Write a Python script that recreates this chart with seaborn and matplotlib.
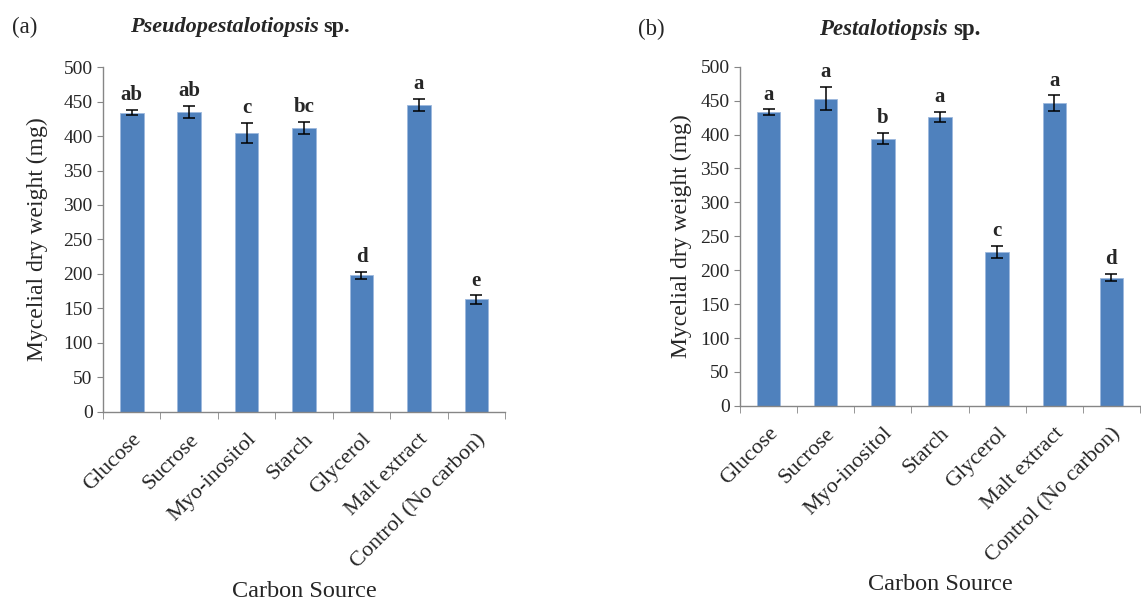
import matplotlib.pyplot as plt
import pandas as pd
import seaborn as sns

sns.set_style("white")
plt.rcParams["font.family"] = ["Liberation Serif", "DejaVu Serif"]

# Данные
categories = ["Glucose", "Sucrose", "Myo-inositol", "Starch", "Glycerol",
              "Malt extract", "Control (No carbon)"]

pseudo_mean = [434, 435, 405, 412, 198, 445, 163]
pseudo_err = [3.6, 8.4, 14.5, 8.4, 5.3, 8.7, 6.0]
pseudo_letters = ["ab", "ab", "c", "bc", "d", "a", "e"]

pesta_mean = [433, 453, 394, 426, 227, 446, 189]
pesta_err = [4.0, 17.5, 8.4, 7.0, 9.3, 11.8, 5.2]
pesta_letters = ["a", "a", "b", "a", "c", "a", "d"]

BAR_COLOR = "#4F81BD"
AXIS_COLOR = "#868686"
W, H = 1141, 604


def draw_panel(ax, means, errs, letters, ylabelpad):
    df = pd.DataFrame({"source": categories, "weight": means})
    sns.barplot(data=df, x="source", y="weight", color=BAR_COLOR, width=0.41,
                errorbar=None, saturation=1, edgecolor="#9DB9DE", linewidth=0.6, ax=ax)
    ax.errorbar(range(len(categories)), means, yerr=errs, fmt="none",
                ecolor="black", elinewidth=1.1, capsize=4, capthick=1.1)

    for i, (m, e, lab) in enumerate(zip(means, errs, letters)):
        ax.annotate(lab, (i, m + e), xytext=(0, 7), textcoords="offset points",
                    ha="center", va="baseline", fontsize=15, fontweight="bold")

    ax.set_ylim(0, 500)
    ax.set_xlim(-0.5, len(categories) - 0.5)
    ax.set_yticks(range(0, 501, 50))
    ax.tick_params(axis="y", labelsize=14, length=4, color=AXIS_COLOR, direction="out", left=True)

    # Метки категорий как в Excel: засечки между столбцами
    ax.set_xticks([i - 0.5 for i in range(len(categories) + 1)], minor=True)
    ax.set_xticks(range(len(categories)))
    ax.set_xticklabels(categories, rotation=45, ha="right", rotation_mode="anchor", fontsize=16)
    ax.tick_params(axis="x", which="major", length=0, pad=13)
    ax.tick_params(axis="x", which="minor", length=5, color=AXIS_COLOR, direction="out", bottom=True)

    ax.set_xlabel("")
    ax.set_ylabel("Mycelial dry weight (mg)", fontsize=17, labelpad=ylabelpad)

    sns.despine(ax=ax)
    for side in ["left", "bottom"]:
        ax.spines[side].set_color(AXIS_COLOR)
        ax.spines[side].set_linewidth(1.0)


fig = plt.figure(figsize=(W / 100, H / 100), dpi=100)
ax_a = fig.add_axes([0.0903, 0.318, 0.3523, 0.571])
ax_b = fig.add_axes([0.6486, 0.328, 0.3505, 0.5615])

draw_panel(ax_a, pseudo_mean, pseudo_err, pseudo_letters, 11)
draw_panel(ax_b, pesta_mean, pesta_err, pesta_letters, 6)

# Подписи оси X (под повёрнутыми метками)
fig.text(304 / W, 1 - 597 / H, "Carbon Source", fontsize=17.5, ha="center", va="baseline")
fig.text(940 / W, 1 - 590 / H, "Carbon Source", fontsize=17.5, ha="center", va="baseline")

# Заголовки панелей
fig.text(12 / W, 1 - 33 / H, "(a)", fontsize=16.5, va="baseline")
fig.text(319 / W, 1 - 32 / H, "Pseudopestalotiopsis", fontsize=16, fontweight="bold",
         fontstyle="italic", ha="right", va="baseline")
fig.text(323 / W, 1 - 32 / H, "sp.", fontsize=16, fontweight="bold", ha="left", va="baseline")

fig.text(638 / W, 1 - 35 / H, "(b)", fontsize=16.5, va="baseline")
fig.text(948 / W, 1 - 35 / H, "Pestalotiopsis", fontsize=16.5, fontweight="bold",
         fontstyle="italic", ha="right", va="baseline")
fig.text(953 / W, 1 - 35 / H, "sp.", fontsize=16.5, fontweight="bold", ha="left", va="baseline")

fig.savefig("out.png", dpi=100)
